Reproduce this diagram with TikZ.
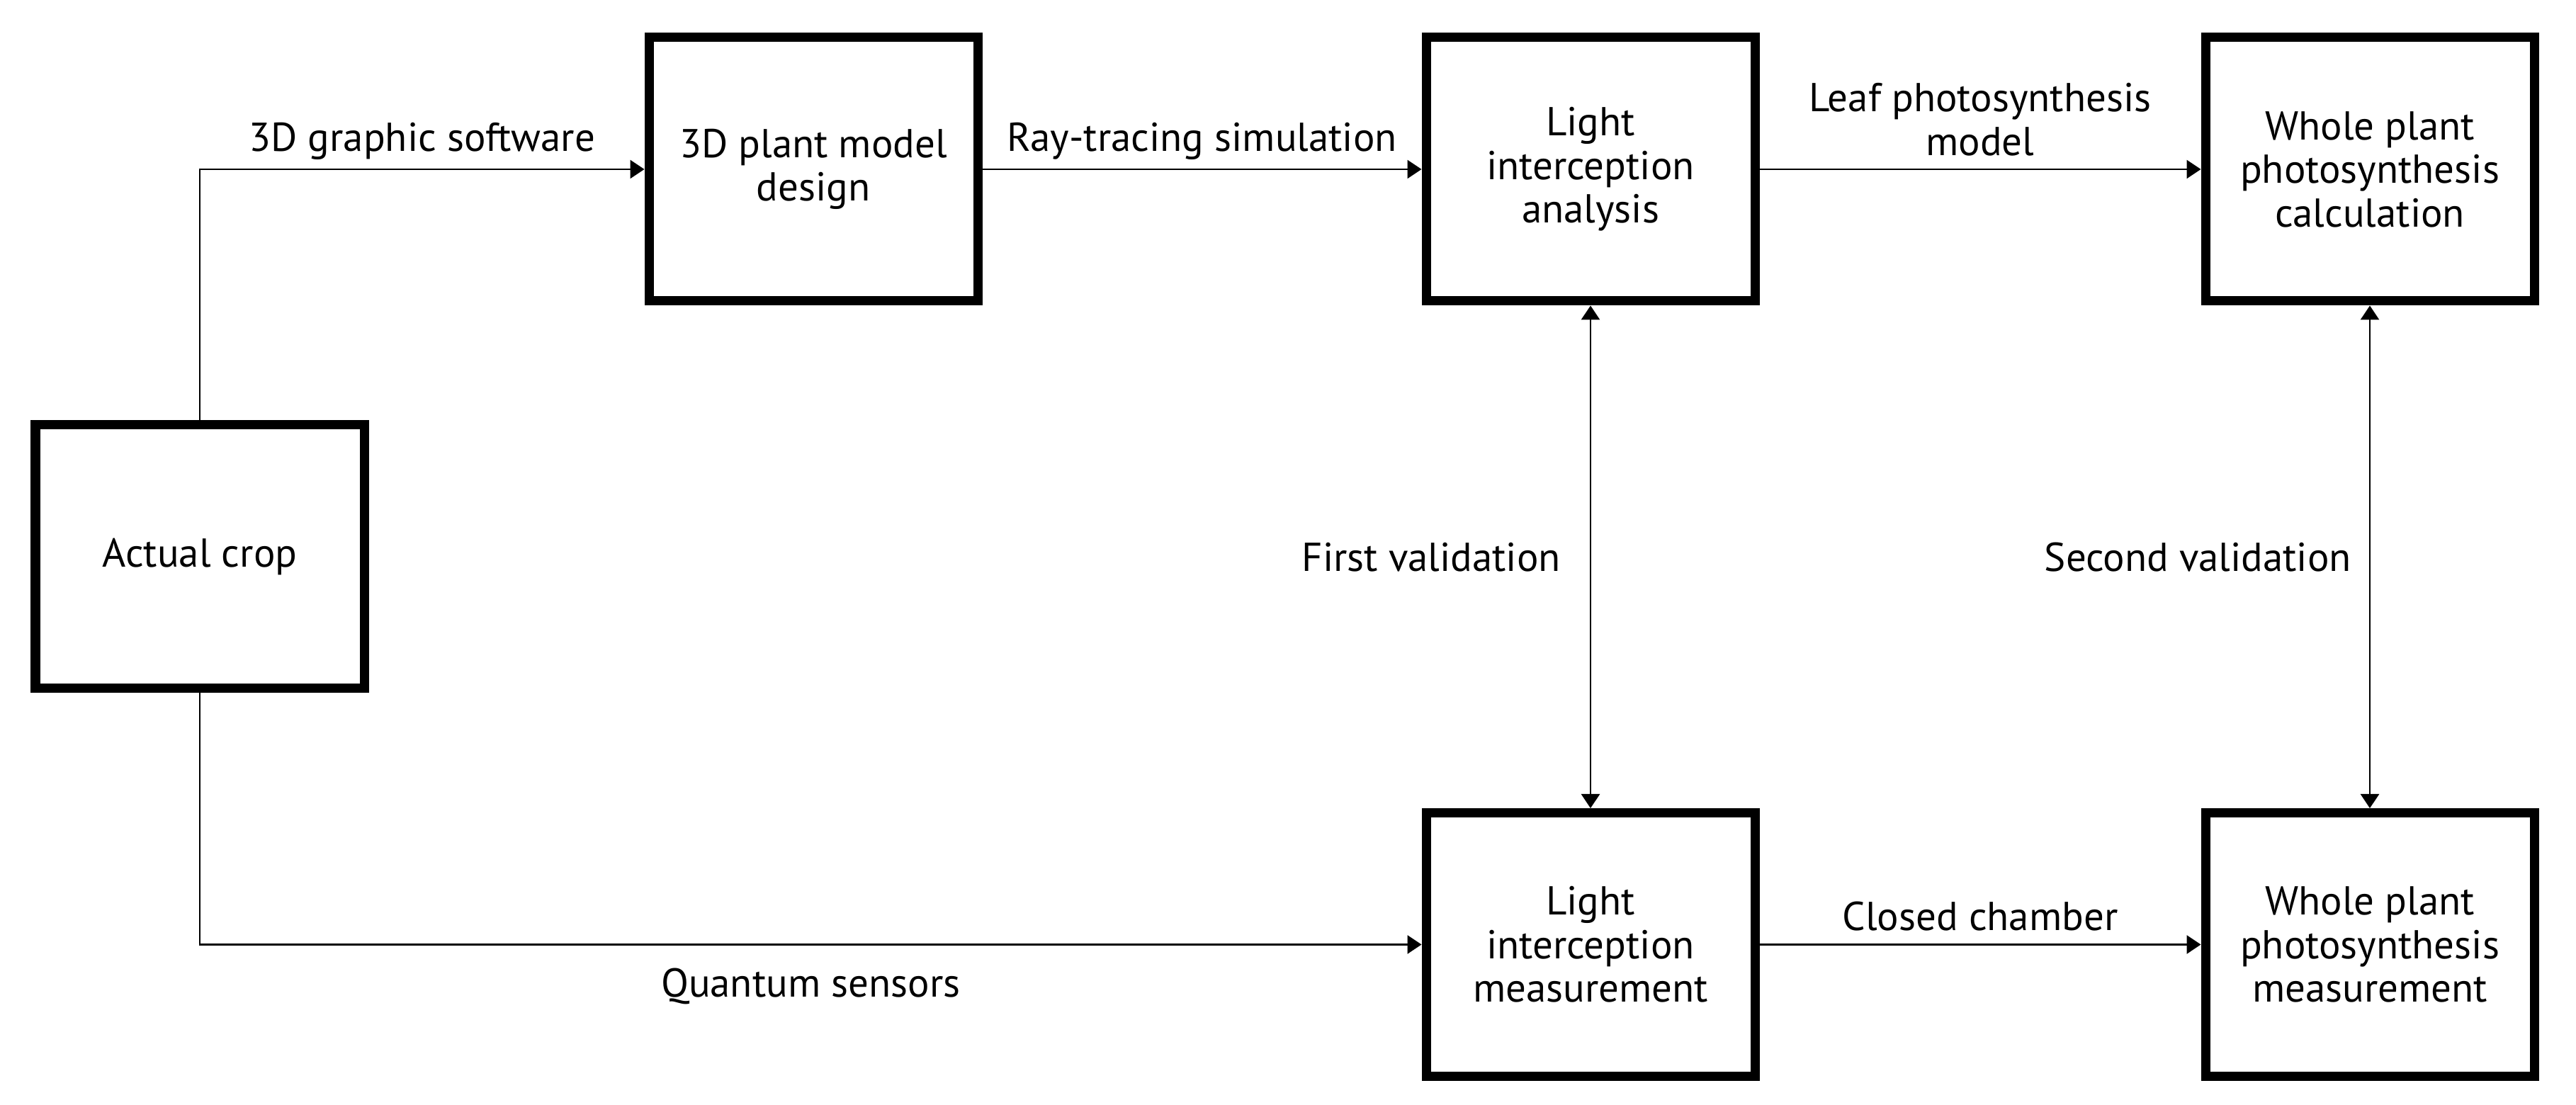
\documentclass[tikz,border=0pt]{standalone}
\usepackage{fontspec}
\setmainfont{PT Sans}
\usetikzlibrary{arrows.meta}

\begin{document}
\begin{tikzpicture}[
        caja/.style={draw, line width=3.7pt, minimum width=4.64cm, minimum height=3.72cm,
                     align=center, font=\fontsize{16.2}{17.5}\selectfont},
        flecha/.style={line width=0.8pt, -{Triangle[length=0.2cm,width=0.26cm]}},
        doble/.style={line width=0.8pt, {Triangle[length=0.2cm,width=0.26cm]}-{Triangle[length=0.2cm,width=0.26cm]}},
        etiqueta/.style={align=center, font=\fontsize{16.2}{17.5}\selectfont}
    ]
        % Paso 1: Fija el marco del dibujo
        \useasboundingbox (0,0) rectangle (36.36,15.6);

        % Paso 2: Coloca las seis cajas
        \node[caja] (cultivo) at (2.82,7.745) {Actual crop};
        \node[caja] (modelo) at (11.48,13.21) {3D plant model\\design};
        \node[caja] (analisis) at (22.45,13.21) {Light\\interception\\analysis};
        \node[caja] (calculo) at (33.45,13.21) {Whole plant\\photosynthesis\\calculation};
        \node[caja] (medicion) at (22.45,2.265) {Light\\interception\\measurement};
        \node[caja] (medfoto) at (33.45,2.265) {Whole plant\\photosynthesis\\measurement};

        % Paso 3: Flechas de la fila superior
        \draw[flecha] (cultivo.north) |- (modelo.west)
            node[etiqueta, pos=0.75, above] {3D graphic software};
        \draw[flecha] (modelo) -- (analisis)
            node[etiqueta, midway, above] {Ray-tracing simulation};
        \draw[flecha] (analisis) -- (calculo)
            node[etiqueta, midway, above, yshift=0.06cm] {Leaf photosynthesis\\model};

        % Paso 4: Flechas de la fila inferior
        \draw[flecha] (cultivo.south) |- (medicion.west)
            node[etiqueta, pos=0.75, below, yshift=-0.2cm] {Quantum sensors};
        \draw[flecha] (medicion) -- (medfoto)
            node[etiqueta, midway, above, yshift=0.06cm] {Closed chamber};

        % Paso 5: Flechas de validación
        \draw[doble] (analisis) -- (medicion)
            node[etiqueta, midway, left, xshift=-0.29cm] {First validation};
        \draw[doble] (calculo) -- (medfoto)
            node[etiqueta, midway, left, xshift=-0.13cm] {Second validation};
    \end{tikzpicture}
\end{document}
